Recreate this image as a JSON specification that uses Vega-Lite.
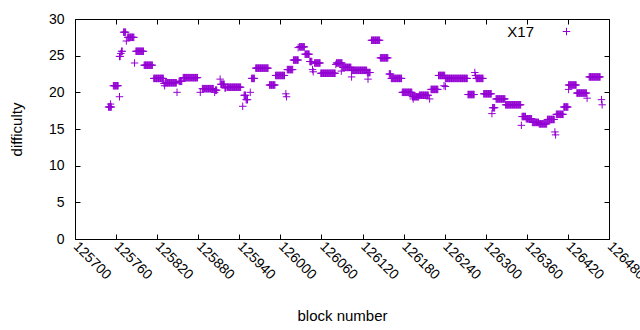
{
"$schema":"https://vega.github.io/schema/vega-lite/v6.json",
"width":534,"height":220,
"autosize":{"type":"none"},
"padding":{"left":75,"top":19,"right":31,"bottom":91},
"background":"white",
"config":{"view":{"stroke":"black","strokeWidth":1},"font":"Liberation Sans",
"axis":{"grid":false,"domain":false,"tickColor":"black","tickWidth":1,"labelColor":"black","titleColor":"black","labelFont":"Liberation Sans","titleFont":"Liberation Sans","labelFontSize":14,"titleFontSize":15,"titleFontWeight":"normal","tickSize":-5}},
"data":{"values":[
{"b":125749,"d":18},{"b":125750,"d":18},{"b":125751,"d":18},{"b":125752,"d":18},{"b":125753,"d":18},{"b":125752,"d":18.4},
{"b":125756,"d":20.9},{"b":125757,"d":20.9},{"b":125758,"d":20.9},{"b":125759,"d":20.9},{"b":125760,"d":20.9},{"b":125761,"d":20.9},{"b":125762,"d":20.9},{"b":125763,"d":20.9},
{"b":125765,"d":19.4},
{"b":125765,"d":24.9},{"b":125766,"d":24.9},{"b":125767,"d":25.3},{"b":125768,"d":25.6},{"b":125769,"d":25.6},
{"b":125771,"d":28.2},{"b":125772,"d":28.2},{"b":125773,"d":28.2},{"b":125774,"d":28.2},
{"b":125775,"d":27.0},
{"b":125777,"d":27.5},{"b":125778,"d":27.5},{"b":125779,"d":27.5},{"b":125780,"d":27.5},{"b":125781,"d":27.5},{"b":125782,"d":27.5},{"b":125783,"d":27.5},{"b":125784,"d":27.5},{"b":125785,"d":27.5},{"b":125786,"d":27.5},
{"b":125787,"d":24.0},
{"b":125789,"d":25.6},{"b":125790,"d":25.6},{"b":125791,"d":25.6},{"b":125792,"d":25.6},{"b":125793,"d":25.6},{"b":125794,"d":25.6},{"b":125795,"d":25.6},{"b":125796,"d":25.6},{"b":125797,"d":25.6},{"b":125798,"d":25.6},{"b":125799,"d":25.6},{"b":125800,"d":25.6},
{"b":125801,"d":23.7},{"b":125802,"d":23.7},{"b":125803,"d":23.7},{"b":125804,"d":23.7},{"b":125805,"d":23.7},{"b":125806,"d":23.7},{"b":125807,"d":23.7},{"b":125808,"d":23.7},{"b":125809,"d":23.7},{"b":125810,"d":23.7},{"b":125811,"d":23.7},{"b":125812,"d":23.7},{"b":125813,"d":23.7},
{"b":125815,"d":21.9},{"b":125816,"d":21.9},{"b":125817,"d":21.9},{"b":125818,"d":21.9},{"b":125819,"d":21.9},{"b":125820,"d":21.9},{"b":125821,"d":21.9},{"b":125822,"d":21.9},{"b":125823,"d":21.9},{"b":125824,"d":21.9},{"b":125825,"d":21.9},{"b":125826,"d":21.9},{"b":125827,"d":21.9},{"b":125828,"d":21.9},{"b":125829,"d":21.9},
{"b":125830,"d":21.2},{"b":125831,"d":20.9},
{"b":125832,"d":21.3},{"b":125833,"d":21.3},{"b":125834,"d":21.3},{"b":125835,"d":21.3},{"b":125836,"d":21.3},{"b":125837,"d":21.3},{"b":125838,"d":21.3},{"b":125839,"d":21.3},{"b":125840,"d":21.3},{"b":125841,"d":21.3},{"b":125842,"d":21.3},{"b":125843,"d":21.3},{"b":125844,"d":21.3},{"b":125845,"d":21.3},{"b":125846,"d":21.3},{"b":125847,"d":21.3},{"b":125848,"d":21.3},
{"b":125849,"d":20.0},
{"b":125852,"d":21.5},{"b":125853,"d":21.5},{"b":125854,"d":21.5},{"b":125855,"d":21.5},{"b":125856,"d":21.5},
{"b":125858,"d":22},{"b":125859,"d":22},{"b":125860,"d":22},{"b":125861,"d":22},{"b":125862,"d":22},{"b":125863,"d":22},{"b":125864,"d":22},{"b":125865,"d":22},{"b":125866,"d":22},{"b":125867,"d":22},{"b":125868,"d":22},{"b":125869,"d":22},{"b":125870,"d":22},{"b":125871,"d":22},{"b":125872,"d":22},{"b":125873,"d":22},{"b":125874,"d":22},{"b":125875,"d":22},{"b":125876,"d":22},{"b":125877,"d":22},{"b":125878,"d":22},{"b":125879,"d":22},
{"b":125883,"d":20.0},
{"b":125886,"d":20.5},{"b":125887,"d":20.5},{"b":125888,"d":20.5},{"b":125889,"d":20.5},{"b":125890,"d":20.5},{"b":125891,"d":20.5},{"b":125892,"d":20.5},{"b":125893,"d":20.5},{"b":125894,"d":20.5},{"b":125895,"d":20.5},{"b":125896,"d":20.5},{"b":125897,"d":20.5},{"b":125898,"d":20.5},{"b":125899,"d":20.5},{"b":125900,"d":20.5},{"b":125901,"d":20.5},{"b":125902,"d":20.5},
{"b":125904,"d":20.0},{"b":125905,"d":20.3},{"b":125906,"d":20.3},{"b":125907,"d":20.3},
{"b":125912,"d":21.8},{"b":125913,"d":21.1},{"b":125914,"d":21.1},{"b":125915,"d":21.1},{"b":125916,"d":21.1},{"b":125917,"d":21.1},{"b":125918,"d":21.1},{"b":125919,"d":20.6},{"b":125920,"d":20.6},
{"b":125922,"d":20.7},{"b":125923,"d":20.7},{"b":125924,"d":20.7},{"b":125925,"d":20.7},{"b":125926,"d":20.7},{"b":125927,"d":20.7},{"b":125928,"d":20.7},{"b":125929,"d":20.7},{"b":125930,"d":20.7},{"b":125931,"d":20.7},{"b":125932,"d":20.7},{"b":125933,"d":20.7},{"b":125934,"d":20.7},{"b":125935,"d":20.7},{"b":125936,"d":20.7},{"b":125937,"d":20.7},{"b":125938,"d":20.7},{"b":125939,"d":20.7},{"b":125940,"d":20.7},{"b":125941,"d":20.7},{"b":125942,"d":20.7},
{"b":125945,"d":18.1},
{"b":125947,"d":19.6},{"b":125948,"d":19.6},{"b":125949,"d":19.6},{"b":125950,"d":19.0},{"b":125951,"d":19.0},{"b":125952,"d":19.0},
{"b":125956,"d":20.0},
{"b":125958,"d":21.9},{"b":125959,"d":21.9},{"b":125960,"d":21.9},{"b":125961,"d":21.9},{"b":125962,"d":21.9},
{"b":125964,"d":23.3},{"b":125965,"d":23.3},{"b":125966,"d":23.3},{"b":125967,"d":23.3},{"b":125968,"d":23.3},{"b":125969,"d":23.3},{"b":125970,"d":23.3},{"b":125971,"d":23.3},{"b":125972,"d":23.3},{"b":125973,"d":23.3},{"b":125974,"d":23.3},{"b":125975,"d":23.3},{"b":125976,"d":23.3},{"b":125977,"d":23.3},{"b":125978,"d":23.3},{"b":125979,"d":23.3},{"b":125980,"d":23.3},{"b":125981,"d":23.3},{"b":125982,"d":23.3},
{"b":125984,"d":21.0},{"b":125985,"d":21.0},{"b":125986,"d":21.0},{"b":125987,"d":21.0},{"b":125988,"d":21.0},{"b":125989,"d":21.0},{"b":125990,"d":21.0},{"b":125991,"d":21.0},{"b":125992,"d":21.0},
{"b":125993,"d":22.3},{"b":125994,"d":22.3},{"b":125995,"d":22.3},{"b":125996,"d":22.3},{"b":125997,"d":22.3},{"b":125998,"d":22.3},{"b":125999,"d":22.3},{"b":126000,"d":22.3},{"b":126001,"d":22.3},{"b":126002,"d":22.3},{"b":126003,"d":22.3},{"b":126004,"d":22.3},{"b":126005,"d":22.3},{"b":126006,"d":22.3},
{"b":126008,"d":19.8},{"b":126009,"d":19.4},
{"b":126010,"d":23.1},{"b":126011,"d":23.1},{"b":126012,"d":23.1},{"b":126013,"d":23.1},{"b":126014,"d":23.1},{"b":126015,"d":23.1},{"b":126016,"d":23.1},{"b":126017,"d":23.1},{"b":126018,"d":23.1},
{"b":126019,"d":24.4},{"b":126020,"d":24.4},{"b":126021,"d":24.4},{"b":126022,"d":24.4},{"b":126023,"d":24.4},{"b":126024,"d":24.4},{"b":126025,"d":24.4},{"b":126026,"d":24.4},
{"b":126026,"d":26.1},
{"b":126028,"d":26.2},{"b":126029,"d":26.2},{"b":126030,"d":26.2},{"b":126031,"d":26.2},{"b":126032,"d":26.2},{"b":126033,"d":26.2},{"b":126034,"d":26.2},{"b":126035,"d":26.2},
{"b":126036,"d":25.2},{"b":126037,"d":25.2},{"b":126038,"d":25.2},{"b":126039,"d":25.2},{"b":126040,"d":25.2},{"b":126041,"d":25.2},{"b":126042,"d":25.2},
{"b":126043,"d":24.2},{"b":126044,"d":24.2},{"b":126045,"d":24.2},{"b":126046,"d":24.2},
{"b":126047,"d":23.1},{"b":126048,"d":22.8},
{"b":126050,"d":24.0},{"b":126051,"d":24.0},{"b":126052,"d":24.0},{"b":126053,"d":24.0},{"b":126054,"d":24.0},{"b":126055,"d":24.0},{"b":126056,"d":24.0},{"b":126057,"d":24.0},{"b":126058,"d":24.0},
{"b":126059,"d":22.6},{"b":126060,"d":22.6},{"b":126061,"d":22.6},{"b":126062,"d":22.6},{"b":126063,"d":22.6},{"b":126064,"d":22.6},{"b":126065,"d":22.6},{"b":126066,"d":22.6},{"b":126067,"d":22.6},{"b":126068,"d":22.6},{"b":126069,"d":22.6},{"b":126070,"d":22.6},{"b":126071,"d":22.6},{"b":126072,"d":22.6},{"b":126073,"d":22.6},{"b":126074,"d":22.6},{"b":126075,"d":22.6},{"b":126076,"d":22.6},{"b":126077,"d":22.6},{"b":126078,"d":22.6},{"b":126079,"d":22.6},{"b":126080,"d":22.6},
{"b":126081,"d":23.8},
{"b":126082,"d":24.0},{"b":126083,"d":24.0},{"b":126084,"d":24.0},{"b":126085,"d":24.0},{"b":126086,"d":24.0},{"b":126087,"d":24.0},{"b":126088,"d":24.0},{"b":126089,"d":24.0},{"b":126090,"d":24.0},{"b":126089,"d":22.9},
{"b":126091,"d":23.4},{"b":126092,"d":23.4},{"b":126093,"d":23.4},{"b":126094,"d":23.4},{"b":126095,"d":23.4},{"b":126096,"d":23.4},{"b":126097,"d":23.4},{"b":126098,"d":23.4},{"b":126099,"d":23.4},{"b":126100,"d":23.4},{"b":126101,"d":23.4},{"b":126102,"d":23.4},{"b":126103,"d":23.4},
{"b":126104,"d":23.0},{"b":126105,"d":23.0},{"b":126106,"d":23.0},{"b":126107,"d":23.0},{"b":126108,"d":23.0},{"b":126109,"d":23.0},{"b":126110,"d":23.0},{"b":126111,"d":23.0},{"b":126112,"d":23.0},{"b":126113,"d":23.0},{"b":126114,"d":23.0},{"b":126115,"d":23.0},{"b":126116,"d":23.0},{"b":126117,"d":23.0},{"b":126118,"d":23.0},{"b":126119,"d":23.0},{"b":126120,"d":23.0},{"b":126121,"d":23.0},{"b":126122,"d":23.0},{"b":126123,"d":23.0},{"b":126124,"d":23.0},{"b":126125,"d":23.0},{"b":126126,"d":23.0},{"b":126104,"d":22.1},
{"b":126127,"d":22.7},{"b":126128,"d":22.7},{"b":126129,"d":22.7},{"b":126130,"d":22.7},{"b":126131,"d":22.7},{"b":126128,"d":21.8},
{"b":126133,"d":27.1},{"b":126134,"d":27.1},{"b":126135,"d":27.1},{"b":126136,"d":27.1},{"b":126137,"d":27.1},{"b":126138,"d":27.1},{"b":126139,"d":27.1},{"b":126140,"d":27.1},{"b":126141,"d":27.1},{"b":126142,"d":27.1},{"b":126143,"d":27.1},{"b":126144,"d":27.1},{"b":126145,"d":27.1},
{"b":126146,"d":24.7},{"b":126147,"d":24.7},{"b":126148,"d":24.7},{"b":126149,"d":24.7},{"b":126150,"d":24.7},{"b":126151,"d":24.7},{"b":126152,"d":24.7},{"b":126153,"d":24.7},{"b":126154,"d":24.7},{"b":126155,"d":24.7},{"b":126156,"d":24.7},{"b":126157,"d":24.7},
{"b":126159,"d":22.5},{"b":126160,"d":22.5},{"b":126161,"d":22.5},
{"b":126162,"d":21.9},{"b":126163,"d":21.9},{"b":126164,"d":21.9},{"b":126165,"d":21.9},{"b":126166,"d":21.9},{"b":126167,"d":21.9},{"b":126168,"d":21.9},{"b":126169,"d":21.9},{"b":126170,"d":21.9},{"b":126171,"d":21.9},{"b":126172,"d":21.9},{"b":126173,"d":21.9},{"b":126174,"d":21.9},{"b":126175,"d":21.9},{"b":126176,"d":21.9},{"b":126177,"d":21.9},
{"b":126178,"d":20.0},{"b":126179,"d":20.0},{"b":126180,"d":20.0},{"b":126181,"d":20.0},{"b":126182,"d":20.0},{"b":126183,"d":20.0},{"b":126184,"d":20.0},{"b":126185,"d":20.0},{"b":126186,"d":20.0},{"b":126187,"d":20.0},{"b":126188,"d":20.0},{"b":126189,"d":20.0},{"b":126190,"d":20.0},{"b":126191,"d":20.0},{"b":126192,"d":20.0},
{"b":126193,"d":19.4},{"b":126194,"d":19.4},{"b":126195,"d":19.4},{"b":126196,"d":19.4},{"b":126197,"d":19.4},{"b":126198,"d":19.4},{"b":126199,"d":19.4},{"b":126200,"d":19.4},{"b":126201,"d":19.4},{"b":126202,"d":19.4},{"b":126194,"d":19.1},
{"b":126203,"d":19.6},{"b":126204,"d":19.6},{"b":126205,"d":19.6},{"b":126206,"d":19.6},{"b":126207,"d":19.6},{"b":126208,"d":19.6},{"b":126209,"d":19.6},{"b":126210,"d":19.6},{"b":126211,"d":19.6},{"b":126212,"d":19.6},{"b":126213,"d":19.6},{"b":126214,"d":19.6},{"b":126215,"d":19.6},{"b":126216,"d":19.6},
{"b":126218,"d":19.1},
{"b":126220,"d":20.4},{"b":126221,"d":20.4},{"b":126222,"d":20.4},{"b":126223,"d":20.4},{"b":126224,"d":20.4},{"b":126225,"d":20.4},{"b":126226,"d":20.4},{"b":126227,"d":20.4},{"b":126228,"d":20.4},{"b":126229,"d":20.4},{"b":126230,"d":20.4},
{"b":126231,"d":22.3},{"b":126232,"d":22.3},{"b":126233,"d":22.3},{"b":126234,"d":22.3},{"b":126235,"d":22.3},{"b":126236,"d":22.3},{"b":126237,"d":22.3},{"b":126238,"d":22.3},{"b":126239,"d":22.3},{"b":126240,"d":22.3},{"b":126239,"d":20.9},
{"b":126241,"d":21.9},{"b":126242,"d":21.9},{"b":126243,"d":21.9},{"b":126244,"d":21.9},{"b":126245,"d":21.9},{"b":126246,"d":21.9},{"b":126247,"d":21.9},{"b":126248,"d":21.9},{"b":126249,"d":21.9},{"b":126250,"d":21.9},{"b":126251,"d":21.9},{"b":126252,"d":21.9},{"b":126253,"d":21.9},{"b":126254,"d":21.9},{"b":126255,"d":21.9},{"b":126256,"d":21.9},{"b":126257,"d":21.9},{"b":126258,"d":21.9},{"b":126259,"d":21.9},{"b":126260,"d":21.9},{"b":126261,"d":21.9},{"b":126262,"d":21.9},{"b":126263,"d":21.9},{"b":126264,"d":21.9},{"b":126265,"d":21.9},{"b":126266,"d":21.9},{"b":126267,"d":21.9},{"b":126268,"d":21.9},{"b":126269,"d":21.9},{"b":126270,"d":21.9},{"b":126271,"d":21.9},{"b":126272,"d":21.9},{"b":126273,"d":21.9},{"b":126241,"d":20.8},
{"b":126274,"d":19.7},{"b":126275,"d":19.7},{"b":126276,"d":19.7},{"b":126277,"d":19.7},{"b":126278,"d":19.7},{"b":126279,"d":19.7},{"b":126280,"d":19.7},{"b":126281,"d":19.7},{"b":126282,"d":19.7},{"b":126283,"d":19.7},
{"b":126284,"d":22.7},{"b":126285,"d":22.3},
{"b":126286,"d":21.9},{"b":126287,"d":21.9},{"b":126288,"d":21.9},{"b":126289,"d":21.9},{"b":126290,"d":21.9},{"b":126291,"d":21.9},{"b":126292,"d":21.9},{"b":126293,"d":21.9},{"b":126294,"d":21.9},{"b":126295,"d":21.9},{"b":126296,"d":21.9},
{"b":126297,"d":19.8},{"b":126298,"d":19.8},{"b":126299,"d":19.8},{"b":126300,"d":19.8},{"b":126301,"d":19.8},{"b":126302,"d":19.8},{"b":126303,"d":19.8},{"b":126304,"d":19.8},{"b":126305,"d":19.8},{"b":126306,"d":19.8},{"b":126307,"d":19.8},{"b":126308,"d":19.8},
{"b":126309,"d":17.1},{"b":126310,"d":17.9},{"b":126311,"d":17.9},{"b":126312,"d":17.9},{"b":126313,"d":17.9},
{"b":126315,"d":19.1},{"b":126316,"d":19.1},{"b":126317,"d":19.1},{"b":126318,"d":19.1},{"b":126319,"d":19.1},{"b":126320,"d":19.1},{"b":126321,"d":19.1},{"b":126322,"d":19.1},{"b":126323,"d":19.1},{"b":126324,"d":19.1},{"b":126325,"d":19.1},{"b":126326,"d":19.1},{"b":126327,"d":19.1},{"b":126328,"d":19.1},
{"b":126329,"d":18.3},{"b":126330,"d":18.3},{"b":126331,"d":18.3},{"b":126332,"d":18.3},{"b":126333,"d":18.3},{"b":126334,"d":18.3},{"b":126335,"d":18.3},{"b":126336,"d":18.3},{"b":126337,"d":18.3},{"b":126338,"d":18.3},{"b":126339,"d":18.3},{"b":126340,"d":18.3},{"b":126341,"d":18.3},{"b":126342,"d":18.3},{"b":126343,"d":18.3},{"b":126344,"d":18.3},{"b":126345,"d":18.3},{"b":126346,"d":18.3},{"b":126347,"d":18.3},{"b":126348,"d":18.3},{"b":126349,"d":18.3},{"b":126350,"d":18.3},{"b":126351,"d":18.3},
{"b":126352,"d":15.5},
{"b":126353,"d":16.7},{"b":126354,"d":16.7},{"b":126355,"d":16.7},{"b":126356,"d":16.7},{"b":126357,"d":16.7},{"b":126358,"d":16.7},
{"b":126359,"d":16.4},{"b":126360,"d":16.4},{"b":126361,"d":16.4},{"b":126362,"d":16.4},{"b":126363,"d":16.4},{"b":126364,"d":16.4},{"b":126365,"d":16.4},{"b":126366,"d":16.4},{"b":126367,"d":16.4},
{"b":126368,"d":15.9},{"b":126369,"d":15.9},{"b":126370,"d":15.9},{"b":126371,"d":15.9},{"b":126372,"d":15.9},{"b":126373,"d":15.9},{"b":126374,"d":15.9},{"b":126375,"d":15.9},{"b":126376,"d":15.9},{"b":126377,"d":15.9},
{"b":126378,"d":15.7},{"b":126379,"d":15.7},{"b":126380,"d":15.7},{"b":126381,"d":15.7},{"b":126382,"d":15.7},{"b":126383,"d":15.7},{"b":126384,"d":15.7},{"b":126385,"d":15.7},{"b":126386,"d":15.7},{"b":126387,"d":15.7},{"b":126388,"d":15.7},{"b":126389,"d":15.7},
{"b":126390,"d":16.3},{"b":126391,"d":16.3},{"b":126392,"d":16.3},{"b":126393,"d":16.3},{"b":126394,"d":16.3},{"b":126395,"d":16.3},{"b":126396,"d":16.3},{"b":126397,"d":16.3},{"b":126398,"d":16.3},{"b":126399,"d":16.3},{"b":126400,"d":16.3},
{"b":126401,"d":14.6},{"b":126402,"d":14.2},
{"b":126403,"d":17.0},{"b":126404,"d":17.0},{"b":126405,"d":17.0},{"b":126406,"d":17.0},{"b":126407,"d":17.0},{"b":126408,"d":17.0},{"b":126409,"d":17.0},{"b":126410,"d":17.0},{"b":126411,"d":17.0},{"b":126412,"d":17.0},{"b":126413,"d":17.0},
{"b":126414,"d":18.0},{"b":126415,"d":18.0},{"b":126416,"d":18.0},{"b":126417,"d":18.0},{"b":126418,"d":18.0},{"b":126419,"d":18.0},{"b":126420,"d":18.0},
{"b":126421,"d":21.0},{"b":126422,"d":21.0},{"b":126423,"d":21.0},{"b":126424,"d":21.0},{"b":126425,"d":21.0},{"b":126426,"d":21.0},{"b":126427,"d":21.0},{"b":126428,"d":21.0},{"b":126429,"d":21.0},{"b":126430,"d":21.0},{"b":126431,"d":21.0},{"b":126432,"d":21.0},{"b":126421,"d":20.4},
{"b":126433,"d":19.9},{"b":126434,"d":19.9},{"b":126435,"d":19.9},{"b":126436,"d":19.9},{"b":126437,"d":19.9},{"b":126438,"d":19.9},{"b":126439,"d":19.9},{"b":126440,"d":19.9},{"b":126441,"d":19.9},{"b":126442,"d":19.9},{"b":126443,"d":19.9},{"b":126444,"d":19.9},{"b":126445,"d":19.9},{"b":126446,"d":19.9},{"b":126447,"d":19.9},{"b":126448,"d":19.2},
{"b":126451,"d":22.1},{"b":126452,"d":22.1},{"b":126453,"d":22.1},{"b":126454,"d":22.1},{"b":126455,"d":22.1},{"b":126456,"d":22.1},{"b":126457,"d":22.1},{"b":126458,"d":22.1},{"b":126459,"d":22.1},{"b":126460,"d":22.1},{"b":126461,"d":22.1},{"b":126462,"d":22.1},{"b":126463,"d":22.1},{"b":126464,"d":22.1},{"b":126465,"d":22.1},{"b":126466,"d":22.1},{"b":126467,"d":22.1},
{"b":126469,"d":19.0},{"b":126470,"d":18.3}
]},
"layer":[
{"mark":{"type":"point","shape":"M-1,0H1M0,-1V1","filled":false,"size":56,"strokeWidth":1,"opacity":1},
"encoding":{
"x":{"field":"b","type":"quantitative","scale":{"domain":[125700,126480],"nice":false,"zero":false},
"axis":{"orient":"bottom","values":[125700,125760,125820,125880,125940,126000,126060,126120,126180,126240,126300,126360,126420,126480],"format":"d","labelAngle":45,"labelAlign":"left","labelBaseline":"middle","labelPadding":10,"labelFlush":false,"labelOverlap":false,"labelBound":false,"title":"block number","titleY":76,"titleBaseline":"middle"}},
"y":{"field":"d","type":"quantitative","scale":{"domain":[0,30],"nice":false,"zero":true},
"axis":{"orient":"left","values":[0,5,10,15,20,25,30],"labelPadding":16,"labelFlush":false,"labelOverlap":false,"title":"difficulty","titleX":-59,"titleY":110,"titleAngle":-90,"titleAlign":"center","titleBaseline":"middle"}},
"color":{"datum":"X17","type":"nominal","scale":{"range":["#9400D3"]},
"legend":{"title":null,"orient":"none","legendX":484,"legendY":5,"padding":0,"symbolType":"M-1,0H1M0,-1V1","symbolSize":56,"symbolStrokeWidth":1,"labelFontSize":15,"labelFont":"Liberation Sans","labelColor":"black","labelAlign":"right","labelOffset":-40}}
}},
{"mark":{"type":"point","opacity":0},
"encoding":{
"x":{"field":"b","type":"quantitative","axis":{"orient":"top","values":[125700,125760,125820,125880,125940,126000,126060,126120,126180,126240,126300,126360,126420,126480],"labels":false,"title":null}},
"y":{"field":"d","type":"quantitative","axis":{"orient":"right","values":[0,5,10,15,20,25,30],"labels":false,"title":null}}
}}
]
}
